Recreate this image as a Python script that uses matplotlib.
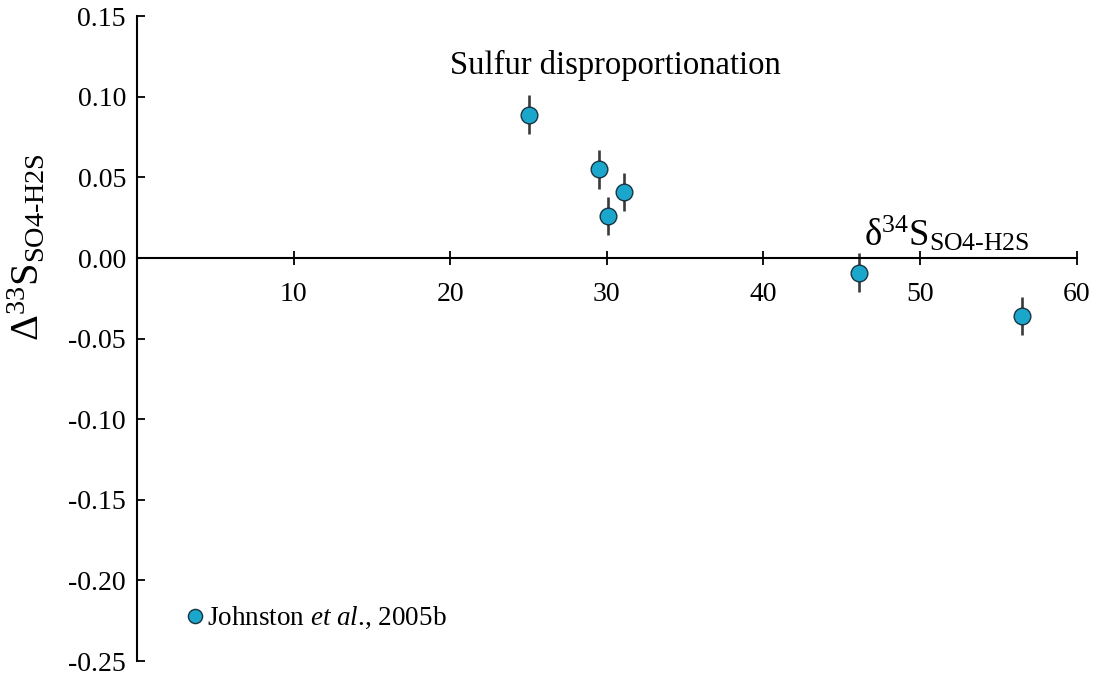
import numpy as np
import matplotlib.pyplot as plt

plt.rcParams['font.family'] = 'Liberation Serif'
plt.rcParams['mathtext.fontset'] = 'custom'
plt.rcParams['mathtext.rm'] = 'Liberation Serif'
plt.rcParams['mathtext.it'] = 'Liberation Serif:italic'
plt.rcParams['mathtext.default'] = 'regular'

# Johnston et al. 2005b, sulfur disproportionation
d34 = [25.0, 29.5, 30.1, 31.1, 46.1, 56.5]
D33 = [0.089, 0.055, 0.026, 0.041, -0.009, -0.036]
D33_err = [0.012, 0.012, 0.012, 0.012, 0.012, 0.012]

xticks = [10, 20, 30, 40, 50, 60]
yticks = [-0.25, -0.20, -0.15, -0.10, -0.05, 0.00, 0.05, 0.10, 0.15]

fig = plt.figure(figsize=(10.99, 6.78), dpi=100)
ax = fig.add_axes([0.1247, 0.025, 0.855, 0.951])

ax.errorbar(d34, D33, yerr=D33_err, fmt='none', ecolor='#3a3a3a', elinewidth=1.9, zorder=2)
ax.plot(d34, D33, 'o', ms=12, mfc='#1ba6cc', mec='#1a3440', mew=1.0, zorder=3,
        label=r'Johnston $\mathit{et\ al}$., 2005b')

ax.set_xlim(0, 60)
ax.set_ylim(-0.25, 0.15)

ax.spines['top'].set_visible(False)
ax.spines['right'].set_visible(False)
ax.spines['bottom'].set_position(('data', 0))
ax.spines['left'].set_linewidth(1.5)
ax.spines['bottom'].set_linewidth(1.5)

ax.set_xticks(xticks)
ax.set_yticks(yticks)
ax.set_yticklabels(['%.2f' % v for v in yticks])
ax.tick_params(axis='x', direction='inout', length=10, width=1.3, pad=12.5, labelsize=20)
ax.tick_params(axis='y', direction='in', length=6, width=1.3, pad=8, labelsize=20)

ax.text(20.0, 0.1197, 'Sulfur disproportionation', fontsize=23.5, ha='left', va='center')
ax.text(46.4, 0.003, r'$\delta^{34}S_{SO4\text{-}H2S}$', fontsize=26.5,
        ha='left', va='bottom')
fig.text(0.0255, 0.636, r'$\Delta^{33}S_{SO4\text{-}H2S}$', fontsize=29,
         rotation=90, ha='center', va='center')

ax.legend(loc='center left', bbox_to_anchor=(3.01, -0.2233), bbox_transform=ax.transData,
          frameon=False, fontsize=19.5, borderpad=0, borderaxespad=0,
          handletextpad=0.05, handlelength=0.8, markerscale=0.85)

fig.savefig('out.png', dpi=100)
